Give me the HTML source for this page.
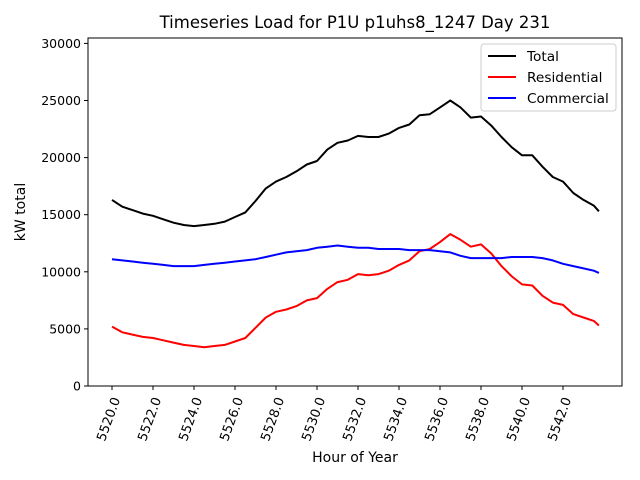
<!DOCTYPE html>
<html><head><meta charset="utf-8"><style>
body{margin:0;background:#fff;}
svg{display:block;font-family:"DejaVu Sans","Liberation Sans",sans-serif;}
</style></head><body>
<svg id="chart" width="640" height="480">
<rect x="0" y="0" width="640" height="480" fill="#fff"/>
<text x="355" y="28" font-size="16.5" text-anchor="middle">Timeseries Load for P1U p1uhs8_1247  Day 231</text>
<g id="plot"></g>
<text x="355" y="462" font-size="14" text-anchor="middle">Hour of Year</text>
<text transform="translate(25,212) rotate(-90)" font-size="14" text-anchor="middle">kW total</text>
</svg>
<script>
const hours=[5520,5520.5,5521,5521.5,5522,5522.5,5523,5523.5,5524,5524.5,5525,5525.5,5526,5526.5,5527,5527.5,5528,5528.5,5529,5529.5,5530,5530.5,5531,5531.5,5532,5532.5,5533,5533.5,5534,5534.5,5535,5535.5,5536,5536.5,5537,5537.5,5538,5538.5,5539,5539.5,5540,5540.5,5541,5541.5,5542,5542.5,5543,5543.5,5543.75];
const total=[16300,15700,15400,15100,14900,14600,14300,14100,14000,14100,14200,14400,14800,15200,16200,17300,17900,18300,18800,19400,19700,20700,21300,21500,21900,21800,21800,22100,22600,22900,23700,23800,24400,25000,24400,23500,23600,22800,21800,20900,20200,20200,19200,18300,17900,16900,16300,15800,15300];
const residential=[5200,4700,4500,4300,4200,4000,3800,3600,3500,3400,3500,3600,3900,4200,5100,6000,6500,6700,7000,7500,7700,8500,9100,9300,9800,9700,9800,10100,10600,11000,11800,12000,12600,13300,12800,12200,12400,11600,10500,9600,8900,8800,7900,7300,7100,6300,6000,5700,5300];
const commercial=[11100,11000,10900,10800,10700,10600,10500,10500,10500,10600,10700,10800,10900,11000,11100,11300,11500,11700,11800,11900,12100,12200,12300,12200,12100,12100,12000,12000,12000,11900,11900,11900,11800,11700,11400,11200,11200,11200,11200,11300,11300,11300,11200,11000,10700,10500,10300,10100,9900];
const xTicks=[5520,5522,5524,5526,5528,5530,5532,5534,5536,5538,5540,5542];
const yTicks=[0,5000,10000,15000,20000,25000,30000];
const seriesNames=["Total","Residential","Commercial"];
const seriesColors=["#000000","#ff0000","#0000ff"];

const NS="http://www.w3.org/2000/svg";
const L=88,R=622,T=38,B=386;
const xS=h=>112+(h-5520)*20.5;
const yS=v=>386-v*(342.6/30000);
const g=document.getElementById('plot');
function mk(t,a,p){const e=document.createElementNS(NS,t);for(const k in a)e.setAttribute(k,a[k]);(p||g).appendChild(e);return e;}

[total,residential,commercial].forEach((s,i)=>{
  const d=s.map((v,j)=>(j?'L':'M')+xS(hours[j]).toFixed(1)+','+yS(v).toFixed(1)).join('');
  const p=mk('path',{d:d,fill:'none',stroke:seriesColors[i],'stroke-width':2,'stroke-linejoin':'round'});
  
  
});
const frame=mk('rect',{x:L,y:T,width:R-L,height:B-T,fill:'none',stroke:'#000','stroke-width':1});


xTicks.forEach(t=>{
  const x=xS(t);
  mk('line',{x1:x,y1:B,x2:x,y2:B+4,stroke:'#000'});
  const tx=mk('text',{transform:`translate(${x+5},${B+12}) rotate(-70)`,'font-size':13,'text-anchor':'end','dominant-baseline':'middle'});
  tx.textContent=t.toFixed(1);
  
  
});
yTicks.forEach(t=>{
  const y=yS(t);
  mk('line',{x1:L-4,y1:y,x2:L,y2:y,stroke:'#000'});
  const tx=mk('text',{x:L-7,y:y+4.5,'font-size':12.5,'text-anchor':'end'});
  tx.textContent=t;
  
  
});
const lg=mk('g',{});


mk('rect',{x:481,y:44,width:135,height:67,rx:3,fill:'#fff',stroke:'#ccc'},lg);
seriesNames.forEach((n,i)=>{
  const y=56+i*21;
  mk('line',{x1:488,y1:y,x2:516,y2:y,stroke:seriesColors[i],'stroke-width':2},lg);
  const tx=mk('text',{x:527,y:y+5,'font-size':13.7},lg);
  tx.textContent=n;
  
  
});
</script>
</body></html>
